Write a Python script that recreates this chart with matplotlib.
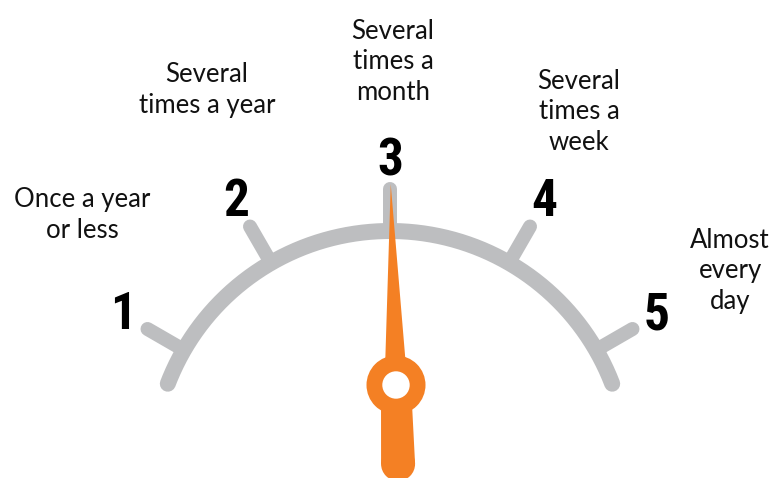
import numpy as np
import matplotlib.pyplot as plt
from matplotlib.patches import Polygon, Circle

#--------data--------
scale_values = [1, 2, 3, 4, 5]
scale_labels = ["Once a year\nor less", "Several\ntimes a year", "Several\ntimes a\nmonth",
                "Several\ntimes a\nweek", "Almost\nevery\nday"]
needle_value = 2.95

#--------style / layout--------
gray = "#bdbec0"
orange = "#f48024"
cx, cy, R = 390, 469, 238          # dial centre and radius (pixel space)
hub_x, hub_y = 396, 385            # needle pivot
label_pos = [(82, 238), (207, 113), (393, 100), (579, 150), (730, 309)]


def val2ang(v):
  # 1 -> 150 deg, 5 -> 30 deg
  return np.deg2rad(150 - (v - 1) * 30)


def pt(ang, r, x0=cx, y0=cy):
  return x0 + r * np.cos(ang), y0 - r * np.sin(ang)


fig = plt.figure(figsize=(7.73, 4.78), dpi=100)
ax = fig.add_axes([0, 0, 1, 1])
ax.set_xlim(0, 773)
ax.set_ylim(478, 0)
ax.axis("off")

px = 72 / 100  # pixels -> points

# arc
t = np.deg2rad(np.linspace(21, 159, 300))
ax.plot(cx + R * np.cos(t), cy - R * np.sin(t), color=gray, lw=16 * px,
        solid_capstyle="round", zorder=1)

# ticks + numbers
for v in scale_values:
  a = val2ang(v)
  x0, y0 = pt(a, R)
  x1, y1 = pt(a, R + 42)
  ax.plot([x0, x1], [y0, y1], color=gray, lw=14 * px, solid_capstyle="round", zorder=1)
  tx, ty = pt(a, 308)
  ax.text(tx, ty, str(v), ha="center", va="center", fontsize=37, fontweight="bold",
          fontstretch="condensed",
          family=["Roboto Condensed", "DejaVu Sans"], color="black")

# labels
for (lx, ly), lab in zip(label_pos, scale_labels):
  ax.text(lx, ly, lab, ha="center", va="baseline", multialignment="center",
          fontsize=18.5, family=["Lato", "DejaVu Sans"], color="#111111",
          linespacing=1.28)

# needle
a = val2ang(needle_value)
perp = a + np.pi / 2
tip = pt(a, 201, hub_x, hub_y)
b1 = pt(perp, 11.5, hub_x, hub_y)
b2 = pt(perp, -11.5, hub_x, hub_y)
ax.add_patch(Polygon([tip, b1, b2], closed=True, color=orange, lw=0, zorder=3))

# tail
back = a + np.pi
tail_end = pt(back, 79, hub_x, hub_y)
t1 = pt(perp, 15, hub_x, hub_y)
t2 = pt(perp, -15, hub_x, hub_y)
t3 = pt(perp, -17, *tail_end)
t4 = pt(perp, 17, *tail_end)
ax.add_patch(Polygon([t1, t2, t3, t4], closed=True, color=orange, lw=0, zorder=3))
ax.add_patch(Circle(tail_end, 17, color=orange, lw=0, zorder=3))

# hub
ax.add_patch(Circle((hub_x, hub_y), 29.5, color=orange, lw=0, zorder=4))
ax.add_patch(Circle((hub_x, hub_y), 13.7, color="white", lw=0, zorder=5))

fig.savefig("out.png", dpi=100)
